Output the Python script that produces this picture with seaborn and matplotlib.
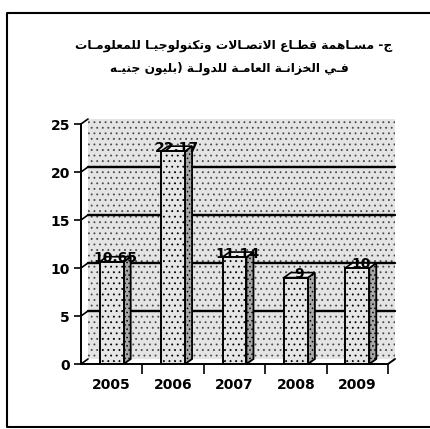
import matplotlib
matplotlib.use("Agg")
import matplotlib.pyplot as plt
import pandas as pd
import seaborn as sns
from matplotlib.patches import Rectangle, Polygon
from matplotlib.lines import Line2D
from matplotlib.transforms import ScaledTranslation

# ---- data -------------------------------------------------------------
years = ["2005", "2006", "2007", "2008", "2009"]
values = [10.65, 22.17, 11.14, 9, 10]
value_labels = ["10.65", "22.17", "11.14", "9", "10"]
y_ticks = [0, 5, 10, 15, 20, 25]
title_lines = [
    "ج- مسـاهمة قطـاع الاتصـالات وتكنولوجيـا للمعلومـات",
    "فـي الخزانـة العامـة للدولـة (بليون جنيـه",
]

# ---- minimal Arabic shaping (presentation forms, visual order) --------
FORMS = {  # isolated, final, initial, medial
    "ا": ("\uFE8D", "\uFE8E", None, None),
    "ب": ("\uFE8F", "\uFE90", "\uFE91", "\uFE92"),
    "ة": ("\uFE93", "\uFE94", None, None),
    "ت": ("\uFE95", "\uFE96", "\uFE97", "\uFE98"),
    "ج": ("\uFE9D", "\uFE9E", "\uFE9F", "\uFEA0"),
    "خ": ("\uFEA5", "\uFEA6", "\uFEA7", "\uFEA8"),
    "د": ("\uFEA9", "\uFEAA", None, None),
    "ز": ("\uFEAF", "\uFEB0", None, None),
    "س": ("\uFEB1", "\uFEB2", "\uFEB3", "\uFEB4"),
    "ص": ("\uFEB9", "\uFEBA", "\uFEBB", "\uFEBC"),
    "ط": ("\uFEC1", "\uFEC2", "\uFEC3", "\uFEC4"),
    "ع": ("\uFEC9", "\uFECA", "\uFECB", "\uFECC"),
    "ف": ("\uFED1", "\uFED2", "\uFED3", "\uFED4"),
    "ق": ("\uFED5", "\uFED6", "\uFED7", "\uFED8"),
    "ك": ("\uFED9", "\uFEDA", "\uFEDB", "\uFEDC"),
    "ل": ("\uFEDD", "\uFEDE", "\uFEDF", "\uFEE0"),
    "م": ("\uFEE1", "\uFEE2", "\uFEE3", "\uFEE4"),
    "ن": ("\uFEE5", "\uFEE6", "\uFEE7", "\uFEE8"),
    "ه": ("\uFEE9", "\uFEEA", "\uFEEB", "\uFEEC"),
    "و": ("\uFEED", "\uFEEE", None, None),
    "ي": ("\uFEF1", "\uFEF2", "\uFEF3", "\uFEF4"),
    "لا": ("\uFEFB", "\uFEFC", None, None),
    "ـ": ("ـ", "ـ", "ـ", "ـ"),
}


def dual(tok):
    return tok in FORMS and FORMS[tok][2] is not None


def shape_arabic(text):
    toks = []
    i = 0
    while i < len(text):
        if text[i] == "ل" and i + 1 < len(text) and text[i + 1] == "ا":
            toks.append("لا")
            i += 2
        else:
            toks.append(text[i])
            i += 1
    out = []
    for k, t in enumerate(toks):
        if t not in FORMS:
            out.append(t)
            continue
        prev = toks[k - 1] if k > 0 else None
        nxt = toks[k + 1] if k + 1 < len(toks) else None
        jp = prev is not None and dual(prev)
        jn = dual(t) and nxt is not None and nxt in FORMS
        iso, fin, ini, med = FORMS[t]
        if jp and jn:
            out.append(med)
        elif jp:
            out.append(fin)
        elif jn:
            out.append(ini)
        else:
            out.append(iso)
    vis = "".join(reversed(out))
    return vis.translate(str.maketrans("()", ")("))


# ---- figure -----------------------------------------------------------
sns.set_theme(style="white")
plt.rcParams["font.family"] = ["DejaVu Sans"]
plt.rcParams["hatch.linewidth"] = 0.6
plt.rcParams["text.color"] = "black"
plt.rcParams["xtick.color"] = "black"
plt.rcParams["ytick.color"] = "black"

W, H = 431, 429
fig = plt.figure(figsize=(W / 100, H / 100), dpi=100)
fig.patch.set_facecolor("white")
ax = fig.add_axes([81 / W, 1 - 364 / H, 307 / W, 240 / H])

df = pd.DataFrame({"year": years, "value": values})
sns.barplot(data=df, x="year", y="value", width=0.39, color="#e6e6e6",
            saturation=1, edgecolor="black", linewidth=1.4, hatch="...",
            ax=ax, zorder=4)
bars = list(ax.patches)

ax.set_xlim(-0.5, 4.5)
ax.set_ylim(0, 25)
ax.set_facecolor("none")
ax.set_xlabel("")
ax.set_ylabel("")

# depth of the 3-D look, in pixels
DX, DY = 7, 5
depth = ScaledTranslation(DX / 100, DY / 100, fig.dpi_scale_trans)
wall_tr = ax.transAxes + depth
grid_tr = ax.get_yaxis_transform() + depth

# speckled back wall
ax.add_patch(Rectangle((0, 0), 1, 1, transform=wall_tr, facecolor="#e4e4e4",
                       edgecolor="#4a4a4a", lw=0, hatch="...", zorder=0,
                       clip_on=False))
# gridlines on the back wall
for v in y_ticks:
    if 0 < v < 25:
        ax.add_line(Line2D([0, 1], [v, v], transform=grid_tr, color="black",
                           lw=1.7, zorder=1, clip_on=False))

# bends joining each tick to the back wall
px2data = ax.transData.inverted()
x0_disp, _ = ax.transData.transform((-0.5, 0))
for v in y_ticks:
    _, yd = ax.transData.transform((-0.5, v))
    p0 = px2data.transform((x0_disp, yd))
    p1 = px2data.transform((x0_disp + DX, yd + DY))
    ax.plot([p0[0], p1[0]], [p0[1], p1[1]], color="black", lw=1.2,
            zorder=2, clip_on=False)

# floor edge at the right end
xe, ye = ax.transData.transform((4.5, 0))
q0 = px2data.transform((xe, ye))
q1 = px2data.transform((xe + DX, ye + DY))
ax.plot([q0[0], q1[0]], [q0[1], q1[1]], color="black", lw=1.4, zorder=2,
        clip_on=False)

# side and top faces of each bar
ddx = DX * 5 / 307
ddy = DY * 25 / 240
for bar in bars:
    x0 = bar.get_x()
    x1 = x0 + bar.get_width()
    top = bar.get_height()
    side = Polygon([(x1, 0), (x1 + ddx, ddy), (x1 + ddx, top + ddy), (x1, top)],
                   closed=True, facecolor="#a8a8a8", edgecolor="black",
                   lw=1.3, hatch="....", zorder=3)
    lid = Polygon([(x0, top), (x1, top), (x1 + ddx, top + ddy), (x0 + ddx, top + ddy)],
                  closed=True, facecolor="#f0f0f0", edgecolor="black",
                  lw=1.2, zorder=3)
    ax.add_patch(side)
    ax.add_patch(lid)

# value labels sitting on the bar tops
for i, (v, lab) in enumerate(zip(values, value_labels)):
    ax.text(i + ddx / 2, v + ddy * 0.7, lab, ha="center", va="center",
            fontsize=10, fontweight="bold", color="black", zorder=6)

# axes styling
for s in ("top", "right"):
    ax.spines[s].set_visible(False)
for s in ("left", "bottom"):
    ax.spines[s].set_color("black")
    ax.spines[s].set_linewidth(1.4)
    ax.spines[s].set_zorder(5)
ax.set_yticks(y_ticks)
ax.set_yticklabels([str(t) for t in y_ticks], fontsize=10, fontweight="bold")
ax.tick_params(axis="y", direction="out", length=5, width=1.2, color="black",
               labelcolor="black", pad=3, left=True)
ax.set_xticks(range(len(years)))
ax.set_xticklabels(years, fontsize=10, fontweight="bold")
ax.set_xticks([0.5, 1.5, 2.5, 3.5, 4.5], minor=True)
ax.tick_params(axis="x", which="major", length=0, pad=10, labelcolor="black")
ax.tick_params(axis="x", which="minor", direction="out", length=7, width=1.2,
               color="black", bottom=True)
ax.grid(False)

# outer frame
fig.add_artist(Line2D([1, 7.5 / W, 7.5 / W, 1],
                      [1 - 12.5 / H, 1 - 12.5 / H, 1 - 427 / H, 1 - 427 / H],
                      transform=fig.transFigure, color="black", lw=1.5))

# title
fig.text(234 / W, 1 - 45 / H, shape_arabic(title_lines[0]), ha="center",
         va="center", fontsize=8.8, fontweight="bold", color="black")
fig.text(229 / W, 1 - 68 / H, shape_arabic(title_lines[1]), ha="center",
         va="center", fontsize=8.8, fontweight="bold", color="black")

fig.savefig("out.png", dpi=100)
